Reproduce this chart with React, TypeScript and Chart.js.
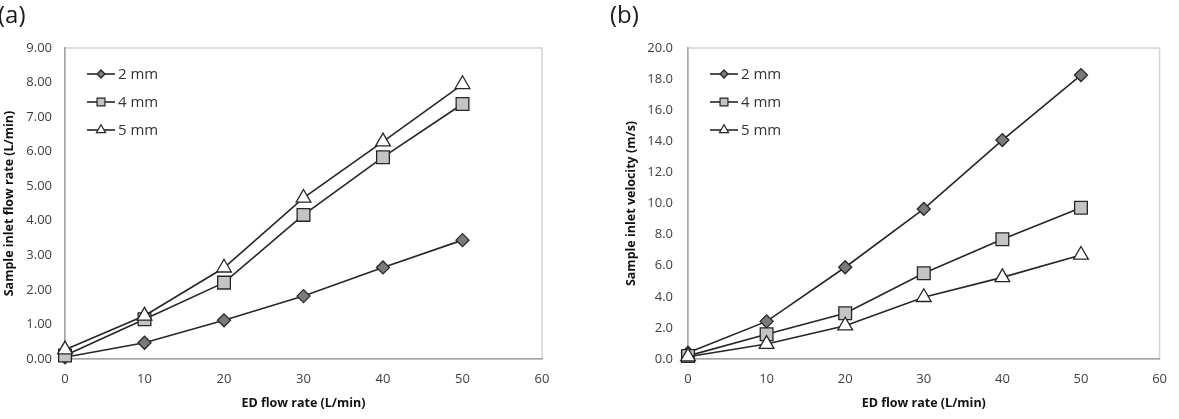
import { useEffect, useRef } from 'react';
import { Chart, registerables } from 'chart.js';
import { drawPoint } from 'chart.js/helpers';

Chart.register(...registerables);

// ED flow rate (L/min) on the x axis
const edFlowRates = [0, 10, 20, 30, 40, 50];
const seriesLabels = ['2 mm', '4 mm', '5 mm'];

// (a) sample inlet flow rate (L/min)
const inletFlow2mm = [0.05, 0.47, 1.12, 1.82, 2.65, 3.44];
const inletFlow4mm = [0.1, 1.15, 2.21, 4.17, 5.84, 7.38];
const inletFlow5mm = [0.27, 1.25, 2.64, 4.66, 6.29, 7.95];

// (b) sample inlet velocity (m/s)
const velocity2mm = [0.4, 2.42, 5.9, 9.65, 14.08, 18.26];
const velocity4mm = [0.2, 1.59, 2.94, 5.51, 7.7, 9.73];
const velocity5mm = [0.15, 0.96, 2.14, 3.97, 5.25, 6.69];

const FONT = "'Open Sans', 'Noto Sans', sans-serif";

const markerStyles = [
  { pointStyle: 'rectRot', radius: 6.5, fill: '#7a7a7a' },
  { pointStyle: 'rect', radius: 9, fill: '#c4c4c4' },
  { pointStyle: 'triangle', radius: 8.5, fill: '#ffffff' },
];

function makeDatasets(values: number[][]) {
  return values.map((vals, i) => ({
    label: seriesLabels[i],
    data: vals.map((v, j) => ({ x: edFlowRates[j], y: v })),
    borderColor: '#262626',
    borderWidth: 1.6,
    pointStyle: markerStyles[i].pointStyle,
    pointRadius: markerStyles[i].radius,
    pointBackgroundColor: markerStyles[i].fill,
    pointBorderColor: '#262626',
    pointBorderWidth: 1.3,
    tension: 0,
    fill: false,
    clip: false,
    // later series are painted over earlier ones
    order: values.length - 1 - i,
  }));
}

// Light frame around the plot area, drawn underneath the axis lines
const frameBox = {
  id: 'frameBox',
  beforeDraw(chart: any) {
    const { ctx, chartArea } = chart;
    ctx.save();
    ctx.strokeStyle = '#d4d4d4';
    ctx.lineWidth = 1.5;
    ctx.strokeRect(chartArea.left, chartArea.top, chartArea.right - chartArea.left, chartArea.bottom - chartArea.top);
    ctx.restore();
  },
};

// Legend inside the plot: short line with marker, then the label
const innerLegend = {
  id: 'innerLegend',
  afterDraw(chart: any) {
    const { ctx, chartArea } = chart;
    const x0 = chartArea.left + 22;
    const rows = [74, 102, 130];
    ctx.save();
    chart.data.datasets.forEach((ds: any, i: number) => {
      const y = rows[i];
      ctx.strokeStyle = '#262626';
      ctx.lineWidth = 1.6;
      ctx.beginPath();
      ctx.moveTo(x0, y);
      ctx.lineTo(x0 + 28, y);
      ctx.stroke();
      ctx.fillStyle = ds.pointBackgroundColor;
      ctx.strokeStyle = '#262626';
      ctx.lineWidth = 1.2;
      drawPoint(ctx, { pointStyle: ds.pointStyle, radius: ds.pointRadius * 0.62, borderWidth: 1.2, rotation: 0 } as any, x0 + 14, y);
      ctx.fillStyle = '#333333';
      ctx.font = `15px ${FONT}`;
      ctx.textAlign = 'left';
      ctx.textBaseline = 'middle';
      ctx.fillText(ds.label, x0 + 31, y + 1);
    });
    ctx.restore();
  },
};

// Panel letter in the top-left corner
const panelTag = {
  id: 'panelTag',
  afterDraw(chart: any, _args: any, opts: any) {
    const { ctx } = chart;
    ctx.save();
    ctx.fillStyle = '#1a1a1a';
    ctx.font = `24px ${FONT}`;
    ctx.textAlign = 'left';
    ctx.textBaseline = 'middle';
    ctx.fillText(opts.text, opts.x, 16);
    ctx.restore();
  },
};

interface PanelProps {
  values: number[][];
  yMax: number;
  yStep: number;
  yDecimals: number;
  yTitle: string;
  tag: string;
  tagX: number;
  axisWidth: number;
  yTitlePad: number;
  yTickPad: number;
  rightPad: number;
  width: number;
  left: number;
}

function Panel(p: PanelProps) {
  const ref = useRef<HTMLCanvasElement>(null);
  useEffect(() => {
    if (!ref.current) return;
    const chart = new Chart(ref.current, {
      type: 'line',
      data: { datasets: makeDatasets(p.values) as any },
      options: {
        animation: false,
        responsive: false,
        events: [],
        layout: { padding: { left: 0, top: 48, right: p.rightPad, bottom: 0 } },
        plugins: {
          legend: { display: false },
          tooltip: { enabled: false },
          panelTag: { text: p.tag, x: p.tagX },
        } as any,
        scales: {
          x: {
            type: 'linear',
            min: 0,
            max: 60,
            ticks: { stepSize: 10, padding: 12, color: '#404040', font: { family: FONT, size: 13 } },
            grid: { display: false, drawTicks: false },
            border: { display: true, color: '#a6a6a6', width: 1.5 },
            title: {
              display: true,
              text: 'ED flow rate (L/min)',
              color: '#111111',
              font: { family: FONT, size: 12.5, weight: 'bold' },
              padding: { top: 0, bottom: 8 },
            },
            afterFit: (s: any) => { s.height = 60; },
          },
          y: {
            type: 'linear',
            min: 0,
            max: p.yMax,
            ticks: {
              stepSize: p.yStep,
              padding: p.yTickPad,
              color: '#404040',
              font: { family: FONT, size: 13 },
              callback: (v: any) => Number(v).toFixed(p.yDecimals),
            },
            grid: { display: false, drawTicks: false },
            border: { display: true, color: '#a6a6a6', width: 1.5 },
            title: {
              display: true,
              text: p.yTitle,
              color: '#111111',
              font: { family: FONT, size: 12.5, weight: 'bold' },
              padding: { top: p.yTitlePad, bottom: 0 },
            },
            afterFit: (s: any) => { s.width = p.axisWidth; },
          },
        },
      },
      plugins: [frameBox, innerLegend, panelTag],
    });
    return () => chart.destroy();
  }, []);
  return (
    <div style={{ position: 'absolute', left: p.left, top: 0, width: p.width, height: 419 }}>
      <canvas ref={ref} width={p.width} height={419} style={{ display: 'block' }} />
    </div>
  );
}

export default function App() {
  return (
    <div style={{ position: 'fixed', left: 0, top: 0, width: 1179, height: 419, background: '#ffffff', overflow: 'hidden' }}>
      <Panel
        values={[inletFlow2mm, inletFlow4mm, inletFlow5mm]}
        yMax={9}
        yStep={1}
        yDecimals={2}
        yTitle="Sample inlet flow rate (L/min)"
        tag="(a)"
        tagX={-2}
        axisWidth={65}
        yTitlePad={2}
        yTickPad={13}
        rightPad={48}
        width={590}
        left={0}
      />
      <Panel
        values={[velocity2mm, velocity4mm, velocity5mm]}
        yMax={20}
        yStep={2}
        yDecimals={1}
        yTitle="Sample inlet velocity (m/s)"
        tag="(b)"
        tagX={20}
        axisWidth={98}
        yTitlePad={34}
        yTickPad={15}
        rightPad={14}
        width={589}
        left={590}
      />
    </div>
  );
}
